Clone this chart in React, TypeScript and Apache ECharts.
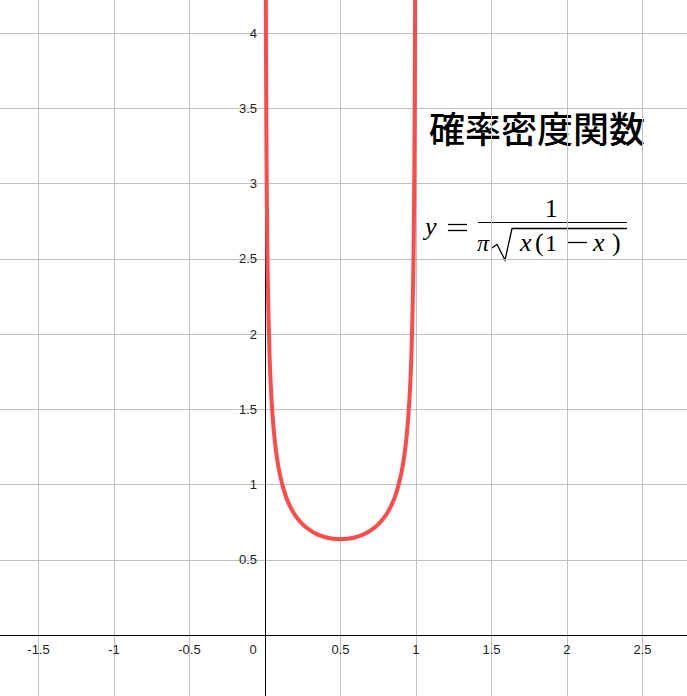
import React, { useEffect, useRef } from 'react';
import * as echarts from 'echarts';

// 確率密度関数 y = 1 / (π√(x(1−x))) — 図から読み取った点
const xLeft = [0.0055, 0.007, 0.01, 0.015, 0.02, 0.03, 0.04, 0.05, 0.06, 0.07, 0.08, 0.1, 0.13, 0.16, 0.2, 0.25, 0.3, 0.35, 0.4, 0.45, 0.5];
const yLeft = [4.3, 3.818, 3.199, 2.619, 2.274, 1.866, 1.624, 1.461, 1.34, 1.248, 1.173, 1.061, 0.947, 0.868, 0.796, 0.735, 0.695, 0.667, 0.65, 0.64, 0.637];
const xRight = [0.55, 0.6, 0.65, 0.7, 0.75, 0.8, 0.84, 0.87, 0.9, 0.92, 0.93, 0.94, 0.95, 0.96, 0.97, 0.98, 0.985, 0.99, 0.993, 0.9945];
const yRight = [0.64, 0.65, 0.667, 0.695, 0.735, 0.796, 0.868, 0.947, 1.061, 1.173, 1.248, 1.34, 1.461, 1.624, 1.866, 2.274, 2.619, 3.199, 3.818, 4.3];

// 表示範囲
const xRange = [-1.755, 2.795];
const yRange = [-0.405, 4.22];
const step = 0.5;

const title = '確率密度関数';

const W = 687;
const H = 696;

const labelFont = { fontFamily: 'Liberation Sans, Arial, sans-serif', fontSize: 13, color: '#222' };
const serif = 'Liberation Serif, Times New Roman, serif';

const isStep = (v) => Math.abs(v / step - Math.round(v / step)) < 1e-6;

const App = () => {
    const chartRef = useRef(null);

    useEffect(() => {
        document.body.style.margin = '0';
        const chart = echarts.init(chartRef.current, null, { renderer: 'svg' });

        const curve = [
            ...xLeft.map((x, i) => [x, yLeft[i]]),
            ...xRight.map((x, i) => [x, yRight[i]])
        ];

        // 原点の位置 (軸線とラベルを原点に置く)
        const zeroX = W * (0 - xRange[0]) / (xRange[1] - xRange[0]);
        const zeroY = H * (yRange[1] - 0) / (yRange[1] - yRange[0]);

        const axisCommon = {
            type: 'value',
            splitNumber: 9,
            minInterval: step,
            maxInterval: step,
            axisTick: { show: false },
            splitLine: { show: true, showMinLine: false, showMaxLine: false, lineStyle: { color: '#c0c0c0', width: 1 } }
        };

        const label = (v) => (v === 0 || !isStep(v) ? '' : String(v));

        // baseline: 文字のベースライン位置 (middle 揃えなので 0.34em 上げる)
        const mathText = (text, x, baseline, italic, size = 24) => ({
            type: 'text', x, y: baseline - size * 0.34,
            style: {
                text, fill: '#000', align: 'left', verticalAlign: 'middle',
                fontFamily: serif, fontSize: size, fontStyle: italic ? 'italic' : 'normal'
            }
        });
        const stroke = { stroke: '#000', lineWidth: 1.3 };

        const options = {
            animation: false,
            backgroundColor: '#fff',
            grid: { left: 0, right: 0, top: 0, bottom: 0 },
            xAxis: {
                ...axisCommon,
                min: xRange[0],
                max: xRange[1],
                position: 'bottom',
                offset: -(H - zeroY),
                axisLine: { onZero: false, lineStyle: { color: '#000', width: 1 } },
                axisLabel: { ...labelFont, margin: 8, showMinLabel: false, showMaxLabel: false, formatter: label }
            },
            yAxis: {
                ...axisCommon,
                min: yRange[0],
                max: yRange[1],
                position: 'left',
                offset: -zeroX,
                axisLine: { onZero: false, lineStyle: { color: '#000', width: 1 } },
                axisLabel: { ...labelFont, margin: 8, showMinLabel: false, showMaxLabel: false, formatter: label }
            },
            series: [{
                type: 'line',
                data: curve,
                showSymbol: false,
                smooth: 0.3,
                lineStyle: { color: '#ff4a4a', width: 4 }
            }],
            graphic: [
                { type: 'text', x: 253, y: 649, style: { text: '0', fill: '#222', fontFamily: labelFont.fontFamily, fontSize: 13, align: 'center', verticalAlign: 'middle' } },
                { type: 'text', x: 537, y: 127, style: { text: title, fill: '#000', align: 'center', verticalAlign: 'middle', fontFamily: 'Noto Sans CJK JP', fontSize: 36, fontWeight: 500 } },
                // y = 1 / (π √(x(1 − x)))
                mathText('y', 425, 235, true, 26),
                { type: 'line', shape: { x1: 448, y1: 224.5, x2: 467, y2: 224.5 }, style: stroke },
                { type: 'line', shape: { x1: 448, y1: 230.5, x2: 467, y2: 230.5 }, style: stroke },
                mathText('1', 545, 217, false, 25),
                { type: 'line', shape: { x1: 478, y1: 222.5, x2: 627, y2: 222.5 }, style: { stroke: '#000', lineWidth: 1.2 } },
                mathText('π', 477, 251, true, 24),
                { type: 'polyline', shape: { points: [[492, 248], [497, 244.5], [505, 260], [512, 228.5], [627, 228.5]] }, style: { ...stroke, fill: 'none' } },
                mathText('x', 520, 251, true, 26),
                mathText('(', 535, 251, false, 26),
                mathText('1', 545, 251, false, 24),
                { type: 'line', shape: { x1: 568, y1: 242.5, x2: 587, y2: 242.5 }, style: stroke },
                mathText('x', 593, 251, true, 26),
                mathText(')', 612, 251, false, 26)
            ]
        };

        chart.setOption(options);

        return () => {
            chart.dispose();
        };
    }, []);

    return (
        <div ref={chartRef} style={{ width: W + 'px', height: H + 'px' }}></div>
    );
};

export default App;
